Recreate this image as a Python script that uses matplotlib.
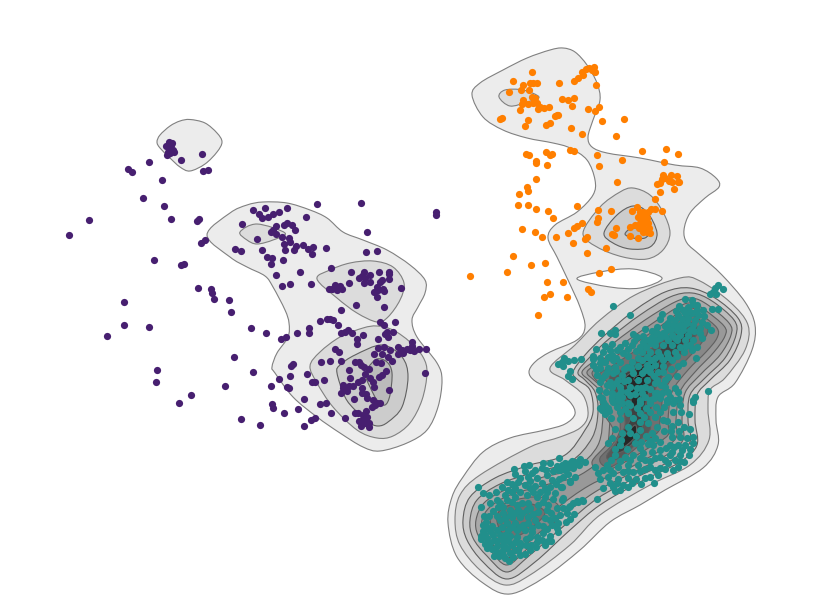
import numpy as np
import matplotlib
matplotlib.use("Agg")
import matplotlib.pyplot as plt
from matplotlib.path import Path
from matplotlib.patches import PathPatch

purple = [(89,220),(69,235),(128,169),(132,172),(149,162),(162,180),(143,198),(164,206),(171,219),(199,219),(197,221),(205,240),(201,243),(154,260),(184,264),(181,265),(169,142),(172,143),(166,146),(170,147),(174,152),(168,152),(167,155),(171,145),(173,150),(170,153),(181,160),(202,154),(203,171),(208,170),
(317,204),(361,203),(436,212),(436,215),(253,210),(265,208),(259,214),(262,218),(268,217),(273,214),(279,212),(287,208),(306,217),(242,224),(276,226),(273,230),(276,234),(284,225),(287,223),(292,225),(295,230),(271,232),(282,237),(257,239),(289,238),(284,244),(290,242),(296,246),(303,245),(285,250),(294,250),(308,249),(313,247),(312,254),(326,248),(235,249),(241,251),(262,250),(267,257),(272,258),(271,264),(283,260),(276,275),(300,272),(282,286),(290,284),(311,284),(331,268),(367,232),(366,252),(377,251),
(329,289),(332,289),(335,285),(340,286),(342,289),(337,290),(349,283),(351,272),(364,272),(362,276),(359,278),(365,278),(364,283),(370,275),(370,282),(379,272),(389,272),(389,274),(389,279),(382,280),(380,282),(377,287),(374,292),(378,290),(383,289),(384,291),(377,297),(401,288),(356,305),(384,307),(341,310),
(320,321),(327,319),(330,319),(333,320),(338,325),(309,328),(309,333),(297,333),(286,337),(281,339),(266,333),(251,328),(234,357),(253,372),(293,364),(291,366),(290,376),(279,379),(271,386),(287,387),(289,388),(307,374),(312,382),(315,382),(324,380),(304,399),(272,404),(273,408),(298,409),(284,413),(320,404),(326,403),(331,413),(241,419),(260,425),(304,426),(311,420),(315,418),(345,418),
(341,333),(345,332),(348,330),(352,333),(363,335),(357,339),(357,344),(380,322),(384,325),(395,322),(387,332),(385,334),(388,337),(393,332),(378,339),(335,349),(339,352),(321,362),(330,361),(341,361),
(374,354),(378,348),(382,354),(384,347),(390,350),(388,357),(392,361),(398,347),(398,354),(403,353),(402,350),(407,349),(412,342),(412,346),(410,350),(414,351),(419,349),(426,349),(425,373),
(355,362),(359,362),(361,365),(364,367),(349,370),(369,369),(376,362),(381,363),(386,371),(382,375),(379,377),(365,374),(350,378),(362,380),(358,382),(370,378),(373,382),(343,385),(343,388),(347,391),(353,386),(349,386),(374,387),(362,388),(341,393),(389,390),(362,393),(366,394),(367,398),(354,399),
(373,400),(377,403),(380,403),(375,405),(372,407),(366,411),(355,413),(358,413),(363,415),(367,417),(359,421),(363,419),(369,423),(361,426),(369,427),(365,423),
(124,302),(124,325),(107,336),(149,327),(198,288),(211,289),(212,293),(214,299),(229,300),(231,312),(157,370),(156,382),(225,386),(191,395),(179,403)]

orange = [(532,72),(513,81),(523,85),(530,83),(533,83),(537,83),(521,90),(509,92),(529,90),(559,83),(574,81),(578,78),(582,72),(586,69),(589,68),(594,67),(595,72),(592,70),(583,75),(596,85),
(532,97),(535,98),(523,100),(522,104),(528,104),(533,103),(537,103),(540,107),(544,108),(549,107),(538,109),(520,110),(562,99),(568,100),(574,98),(572,106),(588,109),(595,111),(599,107),(557,115),(555,116),(558,115),(502,118),(500,119),(528,120),(525,126),(546,125),(550,123),(571,128),(602,121),(624,119),(582,134),(616,136),
(526,154),(529,155),(546,152),(550,155),(552,154),(570,150),(574,151),(536,161),(536,163),(547,165),(597,155),(599,166),(622,160),(642,151),(666,149),(678,154),(664,162),
(536,179),(527,187),(528,191),(519,194),(518,205),(528,205),(536,209),(548,211),(553,218),(522,229),(535,232),(542,237),(556,237),(617,182),
(663,175),(662,179),(660,183),(657,184),(665,178),(671,175),(669,181),(672,182),(677,176),(678,182),(679,182),(674,189),(660,192),(655,199),
(577,206),(598,210),(611,211),(598,218),(597,222),(632,211),(662,211),(582,223),(577,226),(574,228),(568,233),(573,243),(587,237),(585,239),(606,248),(587,253),
(616,228),(612,234),(614,235),(630,227),(630,236),(635,225),(639,228),(638,238),(643,232),(649,228),(650,233),(647,232),
(637,207),(640,212),(643,212),(651,209),(655,209),(638,217),(642,215),(645,217),(648,212),(642,220),(645,222),(640,223),(647,218),(643,227),(648,223),
(513,256),(545,263),(531,265),(507,272),(470,276),(599,273),(611,269),(547,282),(563,282),(588,289),(591,292),(550,294),(544,297),(567,297),(538,315)]

teal = [(613,306),(630,315),(708,391),(696,358),(723,289),(718,285),(715,288),(713,292),(710,294),(716,294),
(564,358),(562,362),(558,364),(563,366),(568,361),(574,360),(581,359),(570,371),(568,376),(572,379),(601,333),(610,333),(615,330),(615,334),
(685,299),(692,300),(693,304),(679,306),(688,307),(697,310),(703,310),(712,309),(718,309),(662,314),(678,315),(685,313),(692,313),(698,315),(670,318),(660,319),(675,320),(682,319),(688,318),(695,320),(702,322),(673,325),(680,325),(687,323),(693,325),(657,327),(645,329),(667,330),(677,330),(683,330),(690,330),(700,328),(711,330),(633,334),(657,333),(663,333),(672,335),(680,335),(688,335),(652,337),(637,337),(648,340),(660,338),(668,340),(677,340),(685,340),(693,340),(702,338),
(605,346),(612,344),(620,347),(625,343),(632,345),(640,347),(655,345),(663,345),(672,345),(680,347),(690,345),(697,347),(593,356),(600,358),(612,355),(623,353),(642,352),(650,352),(658,352),(667,353),(675,352),(593,359),(605,362),(613,360),(620,362),(632,362),(638,358),(647,357),(655,358),(663,360),(672,360),(683,363),(593,365),(600,368),(608,368),(615,367),(627,367),(638,366),(647,365),(655,365),(663,366),(678,366),(597,375),(605,375),(613,373),(622,375),(633,373),(642,373),(650,372),(658,372),(600,382),(610,382),(618,380),(628,380),(638,380),(647,380),(657,380),(665,380),(677,376),(612,387),(620,387),(630,387),(637,388),(645,387),(665,387),(600,397),(603,402),(612,393),(618,395),(630,395),(655,393),(668,392),(675,388),(678,392),(693,400),(695,397),(613,402),(622,403),(630,405),(640,400),(650,403),(660,398),(667,402),(673,403),(679,399),(600,408),(608,408),
(602,398),(605,405),(602,410),(605,414),(612,397),(618,400),(628,403),(640,403),(650,400),(657,393),(667,400),(675,400),(680,405),(693,402),(689,414),(678,422),(667,421),(620,412),(628,413),(640,413),(650,412),(660,412),(640,422),(648,423),(657,427),(628,427),(615,429),(622,433),(630,433),(640,430),(652,433),(672,437),(680,437),(687,438),(693,437),(693,443),(635,443),(641,442),(648,444),(660,442),(670,445),(678,445),(685,445),(615,449),(627,449),(643,453),(652,452),(660,450),(672,452),(680,455),(615,455),(625,457),(633,455),(645,460),(655,458),(665,460),(675,460),(684,462),(607,465),(618,467),(628,465),(638,465),(650,467),(660,468),(668,463),(678,467),(613,473),(623,472),(633,472),(650,477),(658,475),(600,479),(608,477),(618,479),(628,478),(603,488),(613,487),(623,485),(615,491),(620,490),(628,487),(641,484),(654,483),(595,467),(580,459),(572,461),(567,464),(562,465),(573,468),(565,470),(570,481),(562,487),(563,498),(597,499),(582,500),(577,501),(573,503),(570,506),
(559,458),(565,463),(550,463),(543,463),(529,465),(524,466),(514,469),(557,466),(568,467),(542,468),(525,471),(553,471),(560,470),(568,474),(515,474),(532,473),(547,475),(520,478),(507,482),(502,487),(530,481),(542,483),(552,480),(570,482),(550,487),(561,487),(478,487),(483,493),(489,495),(497,500),(515,488),(520,492),(512,492),(530,488),(540,492),(555,493),(515,497),(537,497),(545,497),(553,499),(562,500),(583,501),(578,502),(569,507),(481,507),(493,511),(503,507),(512,502),(522,503),(528,503),(538,505),(547,510),(557,508),(503,513),(510,510),(518,510),(527,510),(538,512),(551,513),(567,513),(574,514),(555,518),(560,515),(497,516),(505,518),(512,517),(520,517),(528,517),(558,523),(566,522),(570,519),(486,522),(492,526),(483,525),(507,523),(515,523),(523,525),(538,525),(532,528),(557,528),(547,529),(483,531),(508,530),(517,530),(525,530),(532,532),(481,536),(493,535),(485,535),(510,536),(517,537),(537,537),(550,536),(481,539),(503,540),(515,542),(526,539),(537,542),(542,540),(551,541),(485,544),(490,543),(503,545),(512,545),(526,545),(545,545),(487,548),(492,549),(497,552),(503,550),(515,550),(499,556),(505,558),(509,561),(513,557),(525,554),(520,555),
(596,349),(603,352),(610,350),(617,350),(628,349),(636,351),(646,347),(651,343),(643,336),(656,340),(665,336),(671,329),(668,323),(676,311),(683,310),(690,312),(697,305),(704,316),(707,325),(700,333),(694,331),(684,325),(677,326),(665,326),(652,331),(643,342),(634,341),(628,356),(616,358),(608,357),(600,363),(607,372),(616,371),(624,369),(631,368),(642,360),(651,360),(660,356),(668,357),(677,356),(684,352),(692,350),(686,346),(675,338),(650,368),(645,370),(654,376),(663,372),(671,369),(668,377),(661,385),(655,383),(650,389),(642,393),(624,381),(616,383),(607,385),(602,378),(596,369),(599,390),(606,392),(612,400),(621,391),(627,392),(622,397),(635,394),(641,388),(645,397),(654,398),(662,393),(670,397),(664,407),(656,407),(646,408),(637,408),(625,409),(617,407),(609,411),(611,418),(620,419),(633,418),(644,417),(655,417),(663,420),(673,412),(681,412),(672,426),(684,427),(690,429),(679,431),(671,431),(664,431),(655,438),(646,436),(636,436),(621,440),(612,438),(608,443),(620,445),
(640,448),(650,441),(666,448),(674,447),(682,450),(690,449),(653,445),(611,460),(620,461),(630,460),(640,458),(650,461),(660,457),(670,455),(680,461),(689,455),(610,470),(628,471),(640,471),(645,469),(655,470),(665,469),(673,470),(636,479),(645,478),(610,483),(617,483),(632,483),(598,473),(603,470),
(570,463),(575,462),(579,465),(585,462),(558,470),(546,470),(535,470),(528,477),(537,478),(559,479),(563,477),(556,484),(575,477),(545,488),(525,485),(535,486),(512,484),(518,482),(508,490),(496,492),(527,495),(533,492),(547,492),(505,495),(507,500),(517,505),(530,508),(543,502),(548,505),(500,503),(490,503),(498,507),(489,516),(484,516),(500,520),(510,515),(515,513),(522,513),(533,514),(545,518),(550,520),(563,508),(490,531),(497,530),(502,527),(512,527),(520,527),(528,523),(535,520),(543,526),(552,525),(487,538),(497,541),(508,541),(520,543),(531,545),(543,533),(497,546),(507,548),(520,546),(486,527),(500,535),(505,535),(530,537),(494,540),(510,553),(503,555),(494,556),(518,550),(530,550),(536,547),(548,541),(558,532)]

level_greys = ['#ececec','#dcdcdc','#cccccc','#bbbbbb','#a9a9a9','#999999','#888888','#707070','#585858','#404040','#262626','#000000']

purple_top = [(190,119.5),(205,123),(217,133),(222,142),(217,152),(205,164),(190,171),(180,167),(170,158),(160,148),(157,142),(160,135),(170,126),(180,121)]
purple_outer = [(207,235),(230,213),(247,205),(263,202),(287,203),(310,210),(327,218),(343,232),(363,240),(387,250),(410,265),(425,280),(425,293),(418,307),(412,320),(417,337),(437,363),(442,380),(438,407),(427,430),(407,443),(380,451),(363,447),(340,433),(317,417),(293,397),(275,373),(272,367),(277,353),(288,337),(289,323),(285,310),(273,287),(265,276),(247,267),(230,257)]
purple_a = [(240,232),(257,224),(285,233),(273,240),(257,244),(247,240)]
purple_b = [(317,279),(330,270),(350,263),(373,261),(393,267),(404,283),(400,300),(388,317),(377,322),(357,313),(337,298)]
purple_c = [(310,366),(320,352),(340,337),(363,328),(377,326),(393,330),(410,342),(423,357),(427,373),(422,400),(410,423),(393,436),(377,438),(357,430),(333,407),(317,383)]
purple_d = [(337,373),(340,365),(355,355),(382,345),(402,357),(408,377),(402,407),(388,422),(378,426),(368,422),(355,410),(345,397)]
purple_e = [(368,368),(377,359),(387,362),(392,373),(390,395),(385,405),(377,400),(370,387),(366,377)]

right_outer = [(472,95),(480,83),(503,70),(527,58),(550,50),(563,48),(575,52),(587,65),(597,83),(600,100),(593,120),(588,137),(592,147),(607,153),(640,158),(675,165),(700,168),(716,178),(719,187),(705,198),(690,213),(684,230),(687,243),(700,255),(722,275),(745,302),(755,325),(752,350),(735,383),(718,397),(716,420),(718,445),(703,468),(665,490),(640,505),(610,522),(580,550),(545,577),(510,594),(483,583),(457,557),(448,523),(452,497),(463,477),(483,452),(510,438),(545,430),(565,424),(575,414),(570,402),(555,391),(535,381),(529,372),(535,362),(550,352),(577,340),(585,327),(580,307),(568,280),(557,257),(548,238),(555,225),(577,212),(593,195),(595,180),(587,160),(570,148),(553,143),(527,138),(503,130),(483,117)]
right_hole = [(577,279),(600,272),(633,269),(662,278),(640,288),(610,287)]
orange_a = [(499,97),(505,90),(523,90),(539,97),(527,102),(510,106)]
orange_b = [(583,233),(600,207),(620,192),(633,188),(650,195),(663,212),(670,233),(663,250),(647,259),(623,257),(597,247)]
orange_c = [(604,233),(617,215),(633,206),(647,212),(657,233),(650,247),(630,249),(613,243)]
orange_d = [(625,234),(633,228),(648,232),(645,238),(633,238)]

teal_1 = [(550,368),(575,345),(600,320),(635,295),(680,278),(700,281),(730,302),(748,325),(745,350),(725,378),(710,390),(708,410),(709,440),(690,465),(650,485),(600,515),(570,545),(530,575),(505,585),(480,570),(460,545),(455,520),(460,495),(480,475),(530,447),(560,437),(580,428),(588,415),(583,395),(565,380)]
teal_2 = [(573,372),(585,355),(605,335),(635,310),(665,292),(690,288),(715,298),(738,318),(741,335),(730,360),(710,380),(697,395),(695,420),(697,445),(680,462),(640,482),(600,505),(570,530),(535,562),(507,579),(483,562),(467,540),(463,520),(470,497),(495,478),(530,465),(565,455),(585,430),(593,412),(590,390),(578,380)]
teal_3 = [(578,372),(590,357),(610,338),(640,315),(670,297),(692,293),(712,301),(734,320),(736,335),(725,358),(705,378),(690,395),(688,420),(690,442),(672,460),(635,478),(598,498),(565,525),(530,555),(507,572),(487,556),(473,538),(470,520),(477,500),(500,484),(535,472),(570,462),(592,438),(598,412),(595,392),(585,380)]
teal_4 = [(582,372),(595,360),(615,342),(645,320),(675,302),(692,298),(708,305),(729,323),(731,335),(720,355),(700,375),(685,393),(682,420),(683,440),(665,456),(630,474),(595,492),(560,518),(528,548),(507,565),(490,550),(478,535),(476,520),(484,503),(505,490),(540,478),(575,468),(598,445),(603,412),(600,392),(590,381)]
teal_5 = [(587,372),(600,362),(620,346),(650,325),(678,307),(692,303),(705,310),(724,326),(725,336),(714,352),(695,372),(680,392),(676,420),(676,438),(658,452),(625,470),(590,485),(555,510),(525,540),(508,558),(493,545),(484,532),(482,520),(490,507),(510,495),(545,485),(580,475),(605,452),(610,412),(606,392),(595,381)]
teal_6a = [(592,373),(605,364),(625,350),(655,330),(680,312),(692,308),(702,315),(717,328),(717,338),(706,352),(688,370),(672,392),(668,420),(668,435),(650,447),(625,462),(602,472),(592,462),(606,445),(613,430),(603,413),(600,400),(602,388)]
teal_6b = [(490,518),(497,508),(515,500),(540,497),(558,505),(556,520),(540,532),(525,545),(508,550),(496,538)]
teal_7a = [(600,374),(612,366),(632,353),(660,335),(682,318),(692,315),(700,320),(708,330),(700,345),(682,365),(665,390),(660,420),(658,432),(640,445),(615,465),(604,466),(600,458),(612,445),(620,430),(618,412),(612,395),(608,383)]
teal_7b = [(497,515),(505,507),(520,503),(535,505),(545,513),(535,525),(520,535),(507,537),(499,528)]
teal_8 = [(610,376),(625,368),(645,353),(668,337),(687,323),(695,325),(698,332),(685,350),(668,368),(655,390),(650,415),(650,430),(640,440),(622,457),(610,460),(607,455),(618,440),(625,425),(622,405),(614,392)]
teal_9 = [(620,377),(640,365),(665,345),(685,332),(690,335),(675,355),(660,372),(648,395),(643,420),(640,435),(625,450),(614,452),(620,435),(630,420),(630,405),(622,392)]
teal_10a = [(625,378),(645,365),(660,357),(655,370),(645,385),(637,405),(632,405),(630,392)]
teal_10b = [(622,440),(635,425),(635,437),(622,448)]
teal_11 = [(634,378),(640,375),(642,378),(636,381)]

regions = [(purple_top,0),(purple_outer,0),(purple_a,1),(purple_b,1),(purple_c,1),(purple_d,2),(purple_e,3),
           (orange_a,1),(orange_b,1),(orange_c,2),(orange_d,3),
           (teal_1,1),(teal_2,2),(teal_3,3),(teal_4,4),(teal_5,5),(teal_6a,6),(teal_6b,6),(teal_7a,7),(teal_7b,7),
           (teal_8,8),(teal_9,9),(teal_10a,10),(teal_10b,10),(teal_11,11)]

def smooth_loop(points):
    p = np.asarray(points, float)
    n = len(p)
    verts = [p[0]]
    codes = [Path.MOVETO]
    for i in range(n):
        p0, p1, p2, p3 = p[i-1], p[i], p[(i+1) % n], p[(i+2) % n]
        verts += [p1 + (p2-p0)/6, p2 - (p3-p1)/6, p2]
        codes += [Path.CURVE4]*3
    return verts, codes

fig = plt.figure(figsize=(8.3, 6), dpi=100)
ax = fig.add_axes([0, 0, 1, 1])
ax.set_xlim(0, 830)
ax.set_ylim(600, 0)
ax.axis('off')

v1, c1 = smooth_loop(right_outer)
v2, c2 = smooth_loop(right_hole[::-1])
ax.add_patch(PathPatch(Path(v1+v2, c1+c2), facecolor=level_greys[0], edgecolor='#808080', linewidth=0.8, zorder=1))
for pts, lev in regions:
    v, c = smooth_loop(pts)
    ax.add_patch(PathPatch(Path(v, c), facecolor=level_greys[lev], edgecolor='#808080' if lev < 2 else '#606060',
                           linewidth=0.8, zorder=1+lev*0.01))

for pts, col in [(purple, '#471f70'), (teal, '#218f8b'), (orange, '#ff7f00')]:
    a = np.array(pts)
    ax.scatter(a[:, 0], a[:, 1], s=27, color=col, linewidths=0, zorder=3)

fig.savefig('out.png', dpi=100)
